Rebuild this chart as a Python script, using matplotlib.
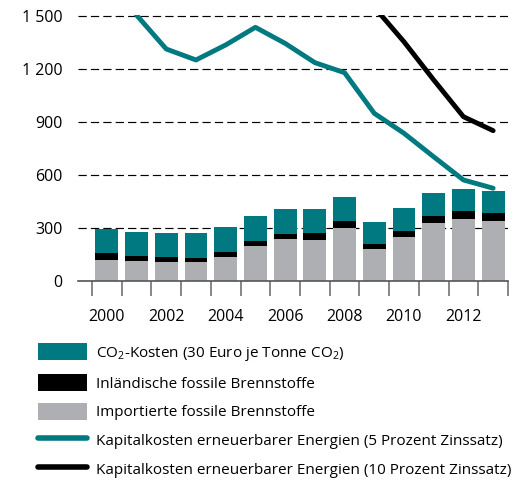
import matplotlib.pyplot as plt
from matplotlib.patches import Patch
from matplotlib.lines import Line2D

plt.rcParams['font.family'] = ['Open Sans', 'DejaVu Sans']
plt.rcParams['mathtext.fontset'] = 'custom'
plt.rcParams['mathtext.rm'] = 'Open Sans'

# Werte
jahre = list(range(2000, 2014))
importiert = [121, 113, 108, 108, 136, 198, 238, 232, 300, 181, 249, 328, 351, 340]
inland = [37, 28, 28, 22, 28, 28, 28, 40, 40, 28, 34, 40, 45, 45]
co2 = [136, 138, 136, 142, 142, 142, 142, 136, 135, 125, 130, 130, 125, 124]

kap5_jahre = list(range(2001, 2014))
kap5 = [1505, 1313, 1251, 1336, 1436, 1345, 1236, 1179, 949, 836, 703, 572, 525]
kap10_jahre = [2009, 2010, 2011, 2012, 2013]
kap10 = [1550, 1354, 1138, 930, 851]

yticks = [0, 300, 600, 900, 1200, 1500]
ytick_labels = ['0', '300', '600', '900', '1 200', '1 500']

teal = '#007a80'
grau = '#aeafb3'

fig = plt.figure(figsize=(5.18, 4.84), dpi=100)
ax = fig.add_axes([78 / 518, 1 - 281 / 484, 430 / 518, (281 - 15.1) / 484])

unten2 = [a + b for a, b in zip(importiert, inland)]
ax.bar(jahre, importiert, width=0.77, color=grau, zorder=2)
ax.bar(jahre, inland, width=0.77, bottom=importiert, color='black', zorder=2)
ax.bar(jahre, co2, width=0.77, bottom=unten2, color=teal, zorder=2)

ax.plot(kap5_jahre, kap5, color=teal, lw=3.5, solid_capstyle='round',
        solid_joinstyle='round', zorder=3)
ax.plot(kap10_jahre, kap10, color='black', lw=3.5, solid_capstyle='round',
        solid_joinstyle='round', zorder=3)

ax.set_xlim(1999.03, 2013.5)
ax.set_ylim(0, 1505)

ax.set_yticks(yticks)
ax.set_yticklabels(ytick_labels)
ax.tick_params(axis='y', length=0, pad=11, labelsize=11.5)
ax.yaxis.grid(True, color='black', linestyle=(0, (7, 3.5)), linewidth=0.85)
ax.set_axisbelow(True)

grenzen = [j - 0.5 for j in jahre] + [jahre[-1] + 0.5]
ax.set_xticks(grenzen)
ax.set_xticklabels([''] * len(grenzen))
ax.tick_params(axis='x', which='major', length=11, width=1.1, color='#666666')
ax.set_xticks(jahre[::2], minor=True)
ax.set_xticklabels([str(j) for j in jahre[::2]], minor=True)
ax.tick_params(axis='x', which='minor', length=0, pad=20, labelsize=11.5)

for s in ['top', 'right', 'left']:
    ax.spines[s].set_visible(False)
ax.spines['bottom'].set_color('#555555')
ax.spines['bottom'].set_linewidth(1.2)

handles = [
    Patch(facecolor=teal, edgecolor='none'),
    Patch(facecolor='black', edgecolor='none'),
    Patch(facecolor=grau, edgecolor='none'),
    Line2D([], [], color=teal, lw=4, solid_capstyle='round'),
    Line2D([], [], color='black', lw=4, solid_capstyle='round'),
]
labels = [
    'CO$_2$-Kosten (30 Euro je Tonne CO$_2$)',
    'Inländische fossile Brennstoffe',
    'Importierte fossile Brennstoffe',
    'Kapitalkosten erneuerbarer Energien (5 Prozent Zinssatz)',
    'Kapitalkosten erneuerbarer Energien (10 Prozent Zinssatz)',
]
fig.legend(handles, labels, loc='upper left', bbox_to_anchor=(38 / 518, 1 - 343 / 484),
           frameon=False, borderpad=0, borderaxespad=0, fontsize=11,
           handlelength=3.2, handleheight=1.37, handletextpad=0.6, labelspacing=0.72)

fig.savefig('out.png', dpi=100)
